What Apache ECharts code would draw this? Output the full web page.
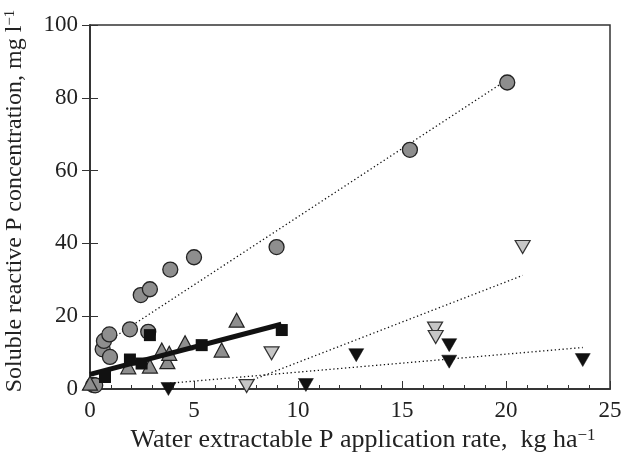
<!DOCTYPE html>
<html><head><meta charset="utf-8">
<script src="https://cdn.jsdelivr.net/npm/echarts@6/dist/echarts.min.js"></script>
<style>html,body{margin:0;padding:0;background:#fff}#c{width:626px;height:458px}</style>
</head><body><div id="c"></div>
<script>
// x ticks / y ticks
const xTicks = [0, 5, 10, 15, 20, 25];
const yTicks = [0, 20, 40, 60, 80, 100];
// Series: [water extractable P rate, soluble reactive P]
const circles = [[0.16,1.1],[0.25,1.0],[0.61,10.9],[0.67,13.2],[0.93,15.0],[0.96,8.8],[1.92,16.4],[2.8,15.7],[2.44,25.8],[2.88,27.4],[3.86,32.8],[5.0,36.2],[8.97,39.0],[15.38,65.7],[20.06,84.2]];
const squares = [[0.72,3.3],[1.92,8.1],[2.48,7.0],[2.88,14.8],[5.37,12.05],[9.22,16.2]];
const grayUp = [[0.0,1.6],[1.84,6.1],[2.88,6.3],[3.45,10.7],[3.72,7.5],[3.81,9.8],[4.57,12.7],[6.33,10.7],[7.05,18.9]];
const lightDown = [[7.53,0.8],[8.73,9.8],[16.59,16.6],[16.62,14.3],[20.8,39.0]];
const blackDown = [[3.77,0.0],[10.38,1.1],[12.8,9.3],[17.27,12.05],[17.27,7.5],[23.69,7.95]];
// Fitted lines (endpoints)
const circleFit = [[1.1,14.0],[19.8,84.0]];
const squareFit = [[0.0,4.0],[9.2,17.8]];
const lightFit = [[7.5,1.8],[20.8,31.2]];
const blackFit = [[3.85,1.6],[23.69,11.4]];

const FONT = '"Liberation Serif", "Times New Roman", serif';
const chart = echarts.init(document.getElementById('c'));
const axCol = '#333';
chart.setOption({
  animation: false,
  backgroundColor: '#fff',
  grid: {left: 90, right: 16, top: 25, bottom: 69, show: true, borderColor: axCol, borderWidth: 1.5,
    containLabel: false, outerBoundsMode: 'none'},
  xAxis: [{
    type: 'value', min: xTicks[0], max: xTicks[xTicks.length-1], interval: 5,
    axisLine: {show: true, onZero: false, lineStyle: {color: axCol, width: 1.5}},
    axisTick: {show: true, inside: true, length: 8, lineStyle: {color: axCol}},
    minorTick: {show: true, splitNumber: 5, length: 4, lineStyle: {color: axCol}},
    splitLine: {show: false},
    axisLabel: {fontFamily: FONT, fontSize: 23, color: '#222', margin: 10},
    name: 'Water extractable P application rate,  kg ha{s|−1}',
    nameLocation: 'middle', nameGap: 37,
    nameTextStyle: {fontFamily: FONT, fontSize: 26, color: '#222', padding: [0,0,0,26],
      rich: {s: {fontFamily: FONT, fontSize: 17, verticalAlign: 'top', color: '#222'}}}
  },{
    type: 'value', position: 'top', min: 0, max: 25, interval: 5,
    axisLine: {show: true, lineStyle: {color: axCol, width: 1.5}},
    axisTick: {show: false},
    minorTick: {show: true, splitNumber: 5, length: 4, lineStyle: {color: axCol}},
    splitLine: {show: false}, axisLabel: {show: false}
  }],
  yAxis: [{
    type: 'value', min: yTicks[0], max: yTicks[yTicks.length-1], interval: 20,
    axisLine: {show: true, onZero: false, lineStyle: {color: axCol, width: 1.5}},
    axisTick: {show: true, inside: true, length: 8, lineStyle: {color: axCol}},
    splitLine: {show: false},
    axisLabel: {fontFamily: FONT, fontSize: 23, color: '#222', margin: 12},
    name: 'Soluble reactive P concentration, mg l{s|−1}',
    nameLocation: 'middle', nameGap: 63, nameRotate: 90,
    nameTextStyle: {fontFamily: FONT, fontSize: 24, color: '#222', padding: [0,0,0,12],
      rich: {s: {fontFamily: FONT, fontSize: 15, verticalAlign: 'top', color: '#222'}}}
  },{
    type: 'value', position: 'right', min: 0, max: 100, interval: 20,
    axisLine: {show: true, lineStyle: {color: axCol, width: 1.5}},
    axisTick: {show: true, inside: true, length: 8, lineStyle: {color: axCol}},
    splitLine: {show: false}, axisLabel: {show: false}
  }],
  series: [
    {type: 'line', data: circleFit, symbol: 'none', lineStyle: {color: '#111', width: 1.3, type: [1.3,2.6]}, z: 1},
    {type: 'line', data: lightFit, symbol: 'none', lineStyle: {color: '#111', width: 1.3, type: [1.3,2.6]}, z: 1},
    {type: 'line', data: blackFit, symbol: 'none', lineStyle: {color: '#111', width: 1.3, type: [1.3,2.6]}, z: 1},
    {type: 'scatter', data: circles, symbol: 'circle', symbolSize: 15,
      itemStyle: {color: '#8e8e8e', borderColor: '#222', borderWidth: 1.3, opacity: 1}, z: 2},
    {type: 'scatter', data: grayUp, symbol: 'triangle', symbolSize: [15,14],
      itemStyle: {color: '#8e8e8e', borderColor: '#222', borderWidth: 1.2, opacity: 1}, z: 3},
    {type: 'line', data: squareFit, symbol: 'none', lineStyle: {color: '#111', width: 5}, z: 4},
    {type: 'scatter', data: squares, symbol: 'rect', symbolSize: 12,
      itemStyle: {color: '#111', borderColor: '#111', borderWidth: 0, opacity: 1}, z: 5},
    {type: 'scatter', data: lightDown, symbol: 'triangle', symbolRotate: 180, symbolSize: [15,13],
      itemStyle: {color: '#c6c6c6', borderColor: '#333', borderWidth: 1.2, opacity: 1}, z: 3},
    {type: 'scatter', data: blackDown, symbol: 'triangle', symbolRotate: 180, symbolSize: [15,13],
      itemStyle: {color: '#111', borderColor: '#111', borderWidth: 0.5, opacity: 1}, z: 3}
  ]
});
</script></body></html>
